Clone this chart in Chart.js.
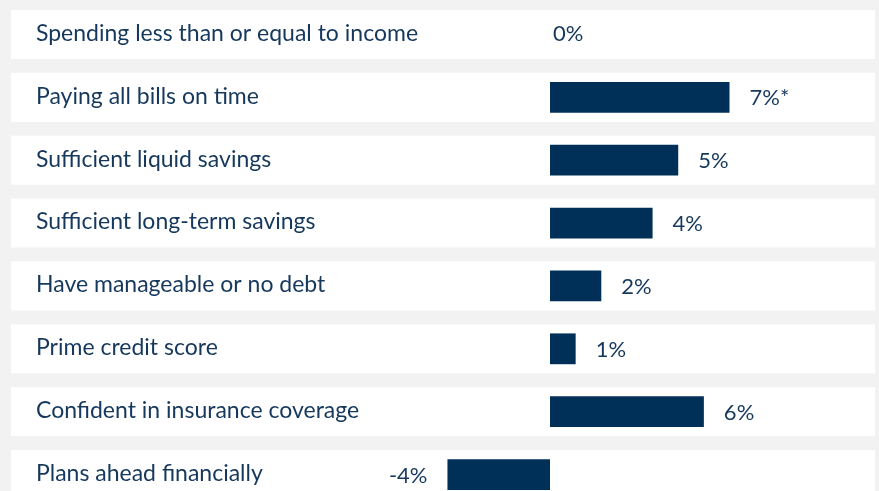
<!DOCTYPE html>
<html>
<head>
<meta charset="utf-8">
<script src="https://cdn.jsdelivr.net/npm/chart.js@4"></script>
<style>
  html, body { margin: 0; padding: 0; background: #f2f2f2; overflow: hidden; height: 491px; }
  #wrap { position: absolute; left: 0; top: 0; width: 879px; height: 506px; }
</style>
</head>
<body>
<div id="wrap"><canvas id="chart"></canvas></div>
<script>
// Data
const categories = [
  'Spending less than or equal to income',
  'Paying all bills on time',
  'Sufficient liquid savings',
  'Sufficient long-term savings',
  'Have manageable or no debt',
  'Prime credit score',
  'Confident in insurance coverage',
  'Plans ahead financially'
];
const values = [0, 7, 5, 4, 2, 1, 6, -4];
const notes = ['', '*', '', '', '', '', '', ''];   // footnote marks after the value

const NAVY = '#003057';
const TEXT = '#15385c';

// White row panels behind each category
const panelPlugin = {
  id: 'panels',
  beforeDatasetsDraw(chart) {
    const { ctx } = chart;
    const y = chart.scales.y;
    ctx.save();
    ctx.fillStyle = '#ffffff';
    categories.forEach((c, i) => {
      const cy = y.getPixelForValue(i);
      ctx.fillRect(11, cy - 24.5, 864, 49);
    });
    ctx.restore();
  }
};

// Category names on the left and value labels next to bars
const labelPlugin = {
  id: 'labels',
  afterDatasetsDraw(chart) {
    const { ctx } = chart;
    const x = chart.scales.x, y = chart.scales.y;
    ctx.save();
    ctx.fillStyle = TEXT;
    ctx.textBaseline = 'middle';
    categories.forEach((c, i) => {
      const cy = y.getPixelForValue(i);
      ctx.font = '23px Lato';
      ctx.textAlign = 'left';
      ctx.fillText(c, 36, cy - 1);
      const v = values[i];
      const txt = v + '%' + notes[i];
      ctx.font = '22px Lato';
      if (v > 0) {
        ctx.textAlign = 'left';
        ctx.fillText(txt, x.getPixelForValue(v) + 20, cy + 1);
      } else if (v < 0) {
        ctx.textAlign = 'right';
        ctx.fillText(txt, x.getPixelForValue(v) - 20, cy + 1);
      } else {
        ctx.textAlign = 'left';
        ctx.fillText(txt, x.getPixelForValue(0) + 3, cy - 1);
      }
    });
    ctx.restore();
  }
};

new Chart(document.getElementById('chart'), {
  type: 'bar',
  data: {
    labels: categories,
    datasets: [{
      data: values,
      backgroundColor: NAVY,
      borderWidth: 0,
      barPercentage: 1,
      categoryPercentage: 0.49
    }]
  },
  options: {
    indexAxis: 'y',
    responsive: true,
    maintainAspectRatio: false,
    animation: false,
    layout: { padding: { top: 3, bottom: 0, left: 0, right: 0 } },
    scales: {
      x: { display: false, min: -21.45, max: 12.83 },
      y: { display: false }
    },
    plugins: {
      legend: { display: false },
      tooltip: { enabled: false }
    }
  },
  plugins: [panelPlugin, labelPlugin]
});
</script>
</body>
</html>
